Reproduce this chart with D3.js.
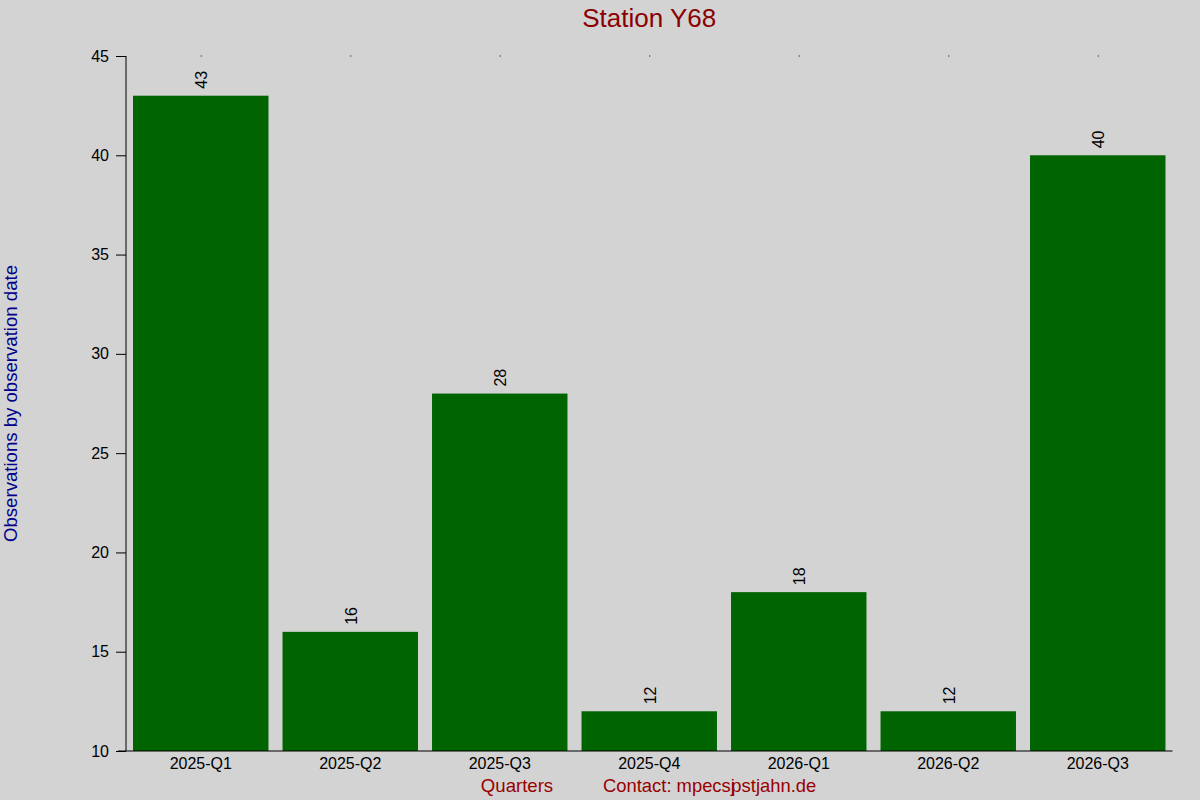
<!DOCTYPE html>
<html>
<head>
<meta charset="utf-8">
<script src="https://cdn.jsdelivr.net/npm/d3@7"></script>
<style>
    html, body { margin: 0; padding: 0; background: #d3d3d3; }
    text { font-family: "Liberation Sans", Arial, sans-serif; }
</style>
</head>
<body>
<div id="chart"></div>
<script>

let quarters = ["2025-Q1", "2025-Q2", "2025-Q3", "2025-Q4", "2026-Q1", "2026-Q2", "2026-Q3"];
let observations = [43, 16, 28, 12, 18, 12, 40];
let yTicks = [10, 15, 20, 25, 30, 35, 40, 45];

function renderChart() {

    let width = 1200;
    let height = 800;
    let margin = { top: 56, right: 27.5, bottom: 49, left: 126 };
    let fontFamily = "Liberation Sans, Arial, sans-serif";

    let svg = d3.select("#chart").append("svg")
        .attr("width", width)
        .attr("height", height)
        .style("display", "block");

    svg.append("rect")
        .attr("width", width)
        .attr("height", height)
        .attr("fill", "#d3d3d3");

    let x = d3.scaleBand()
        .domain(quarters)
        .range([margin.left, width - margin.right])
        .paddingInner(0.094)
        .paddingOuter(0.047);

    let y = d3.scaleLinear()
        .domain([10, 45])
        .range([height - margin.bottom, margin.top]);

    // bars
    svg.append("g").selectAll("rect")
        .data(quarters)
        .join("rect")
        .attr("x", d => x(d))
        .attr("y", (d, i) => y(observations[i]))
        .attr("width", x.bandwidth())
        .attr("height", (d, i) => y(10) - y(observations[i]))
        .attr("fill", "#006400");

    // value labels, rotated
    svg.append("g").selectAll("text")
        .data(quarters)
        .join("text")
        .attr("transform", (d, i) => `translate(${x(d) + x.bandwidth() / 2 + 1},${y(observations[i]) - 7}) rotate(-90)`)
        .attr("dy", "0.35em")
        .attr("text-anchor", "start")
        .attr("font-size", "16px")
        .attr("fill", "#000")
        .text((d, i) => observations[i]);

    // y axis
    let yAxis = svg.append("g")
        .attr("transform", `translate(${margin.left},0)`)
        .call(d3.axisLeft(y).tickValues(yTicks).tickSize(10).tickPadding(7));
    yAxis.attr("font-size", null).attr("font-family", null);
    yAxis.select(".domain").attr("stroke", "#000").attr("d", `M0,${y(45)}V${y(10)}`);
    yAxis.selectAll(".tick line").attr("stroke", "#000");
    yAxis.selectAll(".tick text")
        .style("font-size", "16px")
        .style("font-family", fontFamily)
        .attr("fill", "#000");

    // x axis
    let xAxis = svg.append("g")
        .attr("transform", `translate(0,${y(10)})`)
        .call(d3.axisBottom(x).tickSize(0).tickPadding(7));
    xAxis.attr("font-size", null).attr("font-family", null);
    xAxis.select(".domain").attr("stroke", "#000").attr("d", `M${margin.left - 8},0H${width - margin.right}`);
    xAxis.selectAll(".tick text")
        .style("font-size", "16px")
        .style("font-family", fontFamily)
        .attr("fill", "#000");

    // little dots along the top edge
    svg.append("g").selectAll("rect")
        .data(quarters)
        .join("rect")
        .attr("x", d => x(d) + x.bandwidth() / 2)
        .attr("y", margin.top - 0.5)
        .attr("width", 1)
        .attr("height", 1)
        .attr("fill", "#000");

    let plotCenterX = (margin.left + width - margin.right) / 2;
    let plotCenterY = (y(10) + y(45)) / 2;

    svg.append("text")
        .attr("x", plotCenterX)
        .attr("y", 27)
        .attr("text-anchor", "middle")
        .attr("font-size", "26px")
        .attr("fill", "#8b0000")
        .text("Station Y68");

    svg.append("text")
        .attr("transform", `translate(17,${plotCenterY}) rotate(-90)`)
        .attr("text-anchor", "middle")
        .attr("font-size", "18.6px")
        .attr("fill", "#00008b")
        .text("Observations by observation date");

    svg.append("text")
        .attr("x", 517)
        .attr("y", 792)
        .attr("text-anchor", "middle")
        .attr("font-size", "18.6px")
        .attr("fill", "#990000")
        .text("Quarters");

    let contact = svg.append("text")
        .attr("x", 603)
        .attr("y", 792)
        .attr("font-size", "18.4px")
        .attr("fill", "#990000");
    contact.append("tspan").text("Contact: mpecsj");
    contact.append("tspan").attr("dx", -3.5).text("pstjahn.de");
}

renderChart();
</script>
</body>
</html>
